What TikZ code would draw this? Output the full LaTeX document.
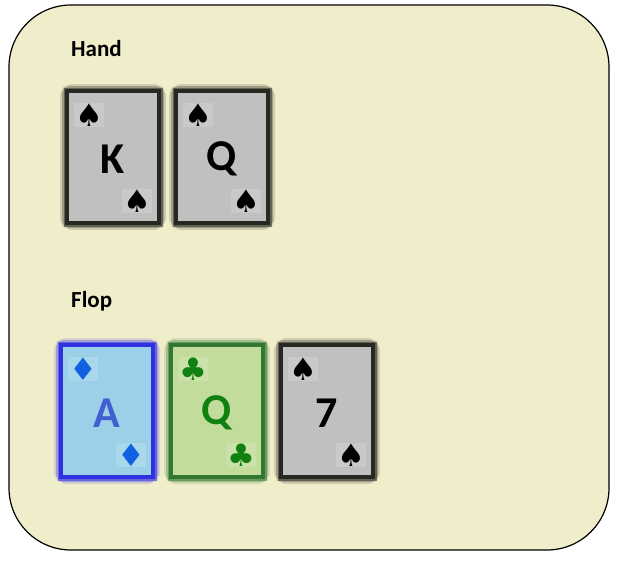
\documentclass[tikz,border=0pt]{standalone}
\usepackage{fontspec}
\setmainfont{Carlito}
\newfontfamily\suitfont{DejaVu Sans}
\definecolor{bgc}{RGB}{240,237,202}
\definecolor{grayfill}{RGB}{192,192,192}
\definecolor{grayedge}{RGB}{40,40,35}
\definecolor{bluefill}{RGB}{155,208,232}
\definecolor{blueedge}{RGB}{48,48,224}
\definecolor{bluetext}{RGB}{64,96,208}
\definecolor{bluesuit}{RGB}{16,96,224}
\definecolor{greenfill}{RGB}{194,220,156}
\definecolor{greenedge}{RGB}{50,120,50}
\definecolor{greentext}{RGB}{16,128,16}
\tikzset{
  lbl/.style={font=\bfseries\fontsize{23}{26}\selectfont, anchor=west, inner sep=0},
  rank/.style={font=\bfseries\fontsize{44}{48}\selectfont, inner sep=0},
  suit/.style={font=\suitfont\fontsize{31}{34}\selectfont, inner sep=1pt, fill=white, fill opacity=0.15, text opacity=1},
}
\newcommand{\pcard}[9]{%
  \draw[#4, opacity=0.15, line width=14pt, rounded corners=5pt] (#1,-#2) rectangle ++(92,-132);
  \draw[#4, opacity=0.3, line width=10pt, rounded corners=3pt] (#1,-#2) rectangle ++(92,-132);
  \draw[#4, opacity=0.5, line width=7pt] (#1,-#2) rectangle ++(92,-132);
  \draw[fill=#3, draw=#4, line width=4.5pt] (#1,-#2) rectangle ++(92,-132);
  \node[suit, text=#6] (#9tl) at (#1+22,-#2-24) {#8};
  \node[suit, text=#6] (#9br) at (#1+70,-#2-110) {#8};
  \node[rank, text=#5] (#9r) at (#1+46,-#2-68) {#7};
}
\begin{document}
\begin{tikzpicture}[x=1pt,y=1pt]
\useasboundingbox (0,0) rectangle (618,-563);
\fill[white] (0,0) rectangle (618,-563);
\draw[fill=bgc, draw=black, line width=1.2pt, rounded corners=62pt] (9,-5) rectangle (609,-550);
\node[lbl] (hand) at (71,-49) {Hand};
\node[lbl] (flop) at (71,-301) {Flop};
\pcard{67}{91}{grayfill}{grayedge}{black}{black}{K}{♠}{c1}
\pcard{176}{91}{grayfill}{grayedge}{black}{black}{Q}{♠}{c2}
\pcard{61}{345}{bluefill}{blueedge}{bluetext}{bluesuit}{A}{♦}{c3}
\pcard{171}{345}{greenfill}{greenedge}{greentext}{greentext}{Q}{♣}{c4}
\pcard{281}{345}{grayfill}{grayedge}{black}{black}{7}{♠}{c5}
\end{tikzpicture}
\end{document}
